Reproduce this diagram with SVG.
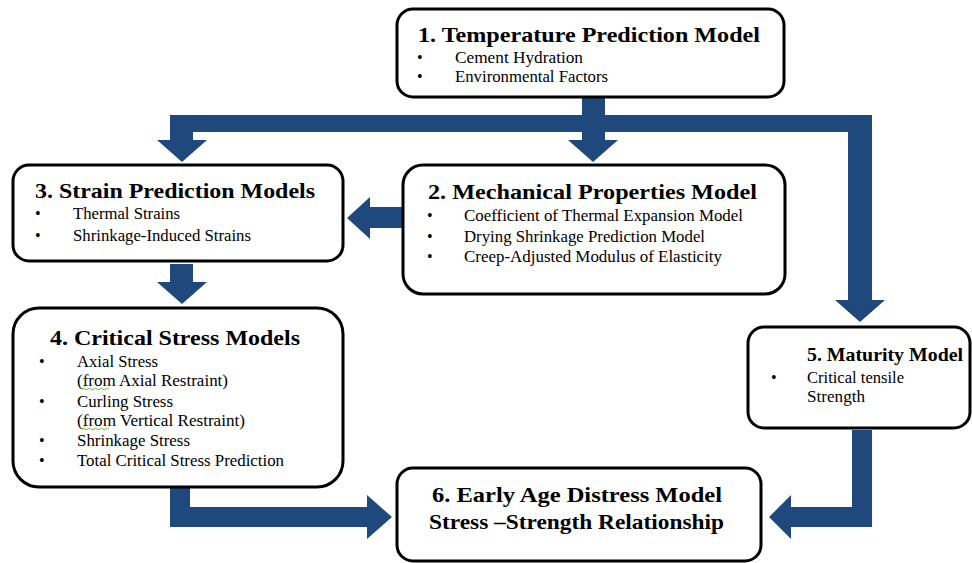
<svg xmlns="http://www.w3.org/2000/svg" width="972" height="563" viewBox="0 0 972 563">
<style>
.t{font-family:'Liberation Serif','Times New Roman','DejaVu Serif',serif;font-weight:bold;font-size:22px;fill:#000}
.b{font-family:'Liberation Serif','Times New Roman','DejaVu Serif',serif;font-size:16px;fill:#000}
.box{fill:#fff;stroke:#000;stroke-width:3}
.arr{fill:#1F497D}
.sq{fill:none;stroke:#6BB244;stroke-width:1}
</style>
<rect width="972" height="563" fill="#fff"/>
<g id="connectors">
<path class="arr" d="M170,115 H872 V300 H885 L860,322 L835,300 H848 V132 H605 V140 H618 L593,162 L568,140 H582 V132 H193 V140 H207 L182,162 L157,140 H170 Z"/>
<path class="arr" d="M582,97 H605 V133 H582 Z"/>
<path class="arr" d="M403,207 H370 V197 L347,218 L370,239 V228 H403 Z"/>
<path class="arr" d="M170,264 H193 V282 H207 L182,304 L157,282 H170 Z"/>
<path class="arr" d="M170,487 H190 V507 H367 V495 L392,517 L367,539 V527 H170 Z"/>
<path class="arr" d="M852,430 H872 V527 H791 V539 L769,517 L791,495 V507 H852 Z"/>
</g>
<g id="node1">
<rect class="box" x="397" y="9" width="387" height="88" rx="16"/>
<text class="t" x="418" y="42" textLength="342" lengthAdjust="spacingAndGlyphs">1. Temperature Prediction Model</text>
<text class="b" x="417" y="63">•</text><text class="b" x="455" y="63" textLength="128" lengthAdjust="spacingAndGlyphs">Cement Hydration</text>
<text class="b" x="417" y="82">•</text><text class="b" x="455" y="82" textLength="153" lengthAdjust="spacingAndGlyphs">Environmental Factors</text>
</g>
<g id="node2">
<rect class="box" x="403" y="165" width="382" height="129" rx="20"/>
<text class="t" x="428" y="199" textLength="329" lengthAdjust="spacingAndGlyphs">2. Mechanical Properties Model</text>
<text class="b" x="427" y="221">•</text><text class="b" x="464" y="221" textLength="279" lengthAdjust="spacingAndGlyphs">Coefficient of Thermal Expansion Model</text>
<text class="b" x="427" y="242">•</text><text class="b" x="464" y="242" textLength="241" lengthAdjust="spacingAndGlyphs">Drying Shrinkage  Prediction Model</text>
<text class="b" x="427" y="262">•</text><text class="b" x="464" y="262" textLength="258" lengthAdjust="spacingAndGlyphs">Creep-Adjusted Modulus of Elasticity</text>
</g>
<g id="node3">
<rect class="box" x="13" y="165" width="330" height="96" rx="16"/>
<text class="t" x="35" y="198" textLength="280" lengthAdjust="spacingAndGlyphs">3. Strain Prediction Models</text>
<text class="b" x="35" y="219">•</text><text class="b" x="73" y="219" textLength="107" lengthAdjust="spacingAndGlyphs">Thermal Strains</text>
<text class="b" x="35" y="241">•</text><text class="b" x="73" y="241" textLength="178" lengthAdjust="spacingAndGlyphs">Shrinkage-Induced  Strains</text>
</g>
<g id="node4">
<rect class="box" x="13" y="308" width="330" height="179" rx="26"/>
<text class="t" x="50" y="345" textLength="250" lengthAdjust="spacingAndGlyphs">4. Critical Stress Models</text>
<text class="b" x="39" y="367">•</text><text class="b" x="77" y="367" textLength="81" lengthAdjust="spacingAndGlyphs">Axial Stress</text>
<text class="b" x="77" y="386" textLength="151" lengthAdjust="spacingAndGlyphs">(from Axial Restraint)</text>
<path class="sq" d="M82,389 q1.5,-1.5 3,0 t3,0 t3,0 t3,0 t3,0 t3,0 t3,0 t3,0 t3,0"/>
<text class="b" x="39" y="407">•</text><text class="b" x="77" y="407" textLength="96" lengthAdjust="spacingAndGlyphs">Curling Stress</text>
<text class="b" x="77" y="426" textLength="168" lengthAdjust="spacingAndGlyphs">(from Vertical Restraint)</text>
<path class="sq" d="M82,429 q1.5,-1.5 3,0 t3,0 t3,0 t3,0 t3,0 t3,0 t3,0 t3,0 t3,0"/>
<text class="b" x="39" y="446">•</text><text class="b" x="77" y="446" textLength="113" lengthAdjust="spacingAndGlyphs">Shrinkage  Stress</text>
<text class="b" x="39" y="466">•</text><text class="b" x="77" y="466" textLength="207" lengthAdjust="spacingAndGlyphs">Total Critical Stress Prediction</text>
</g>
<g id="node5">
<rect class="box" x="748" y="327" width="222" height="101" rx="16"/>
<text class="t" x="807" y="361" font-size="19.5" style="font-size:19.5px" textLength="156" lengthAdjust="spacingAndGlyphs">5. Maturity Model</text>
<text class="b" x="771" y="383">•</text><text class="b" x="807" y="383" textLength="97" lengthAdjust="spacingAndGlyphs">Critical tensile</text>
<text class="b" x="807" y="402" textLength="58" lengthAdjust="spacingAndGlyphs">Strength</text>
</g>
<g id="node6">
<rect class="box" x="397" y="468" width="364" height="93" rx="16"/>
<text class="t" x="432" y="502" textLength="290" lengthAdjust="spacingAndGlyphs">6. Early Age Distress Model</text>
<text class="t" x="429" y="529" textLength="295" lengthAdjust="spacingAndGlyphs">Stress –Strength Relationship</text>
</g>
</svg>
